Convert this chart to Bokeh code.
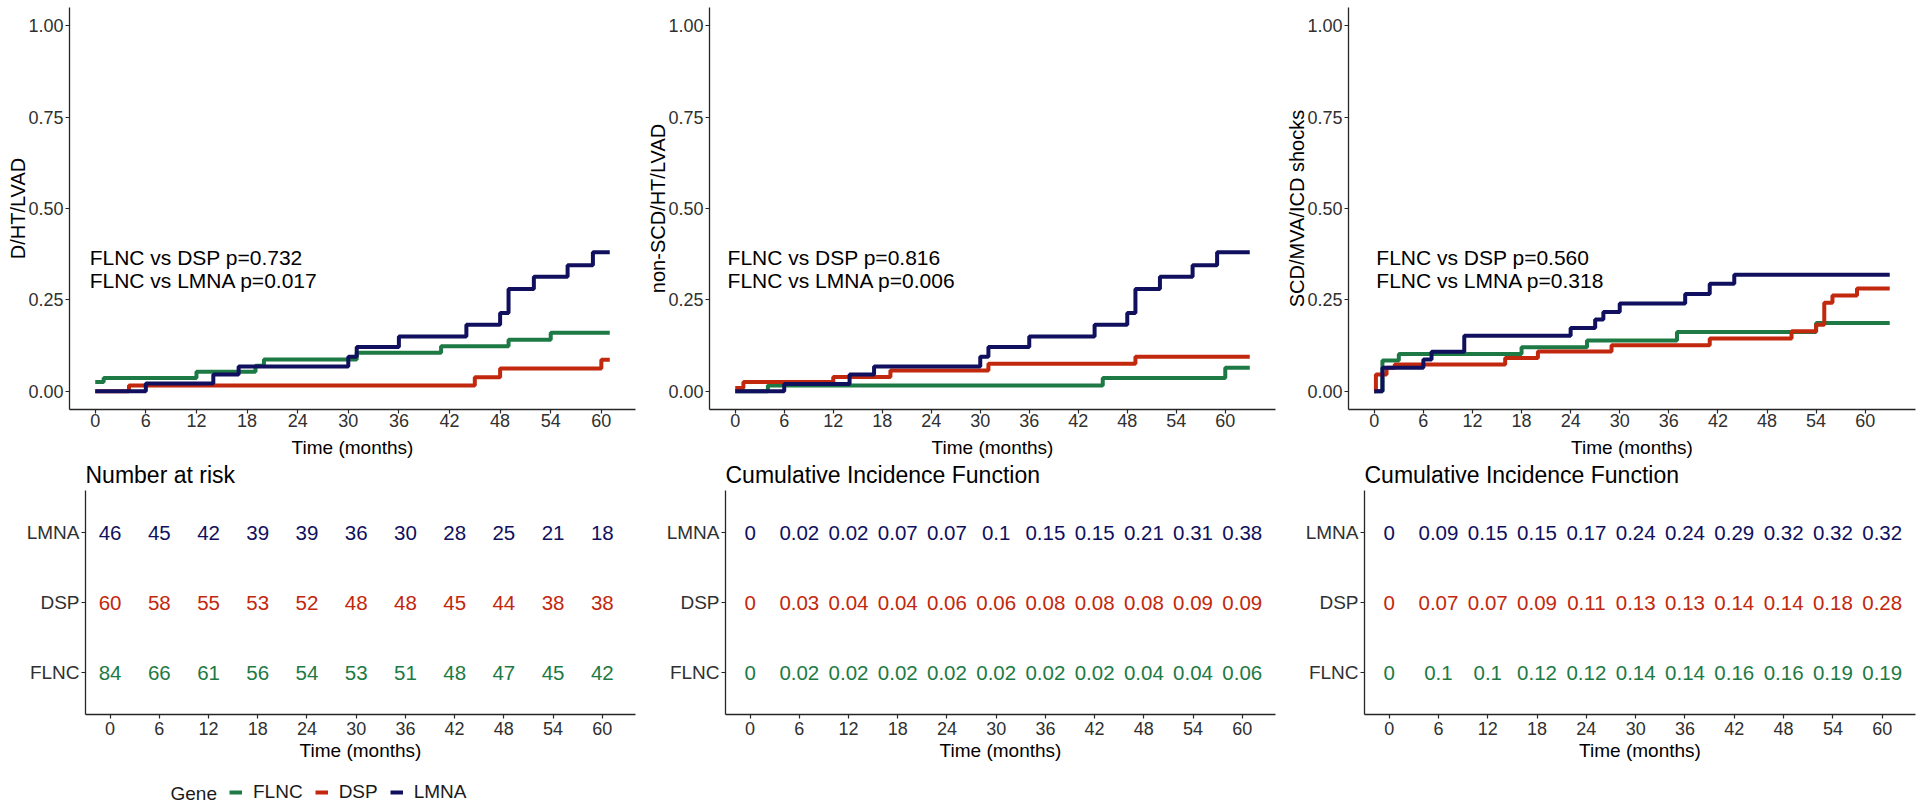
from bokeh.plotting import figure
from bokeh.models import Range1d, FixedTicker, PrintfTickFormatter, Legend, LegendItem, Label
from bokeh.layouts import column, row
from bokeh.embed import file_html
from bokeh.resources import INLINE
from bokeh.core.properties import value

FONT = "Liberation Sans"

# ---------------- data ----------------
genes = ["FLNC", "DSP", "LMNA"]
gene_colors = ["#1d7a44", "#c2280d", "#10105e"]

time_ticks = [0, 6, 12, 18, 24, 30, 36, 42, 48, 54, 60]

# Panel 1: D/HT/LVAD
p1_flnc_t = [0, 1, 12, 19, 20, 31, 41, 49, 54, 61]
p1_flnc_v = [0.025, 0.036, 0.053, 0.070, 0.087, 0.105, 0.123, 0.141, 0.160, 0.160]
p1_dsp_t = [0, 4, 45, 48, 60, 61]
p1_dsp_v = [0.0, 0.016, 0.038, 0.062, 0.086, 0.086]
p1_lmna_t = [0, 6, 14, 17, 30, 31, 36, 44, 48, 49, 52, 56, 59, 61]
p1_lmna_v = [0.0, 0.021, 0.046, 0.068, 0.094, 0.121, 0.150, 0.182, 0.214, 0.280, 0.313, 0.345, 0.380, 0.380]
p1_text = ["FLNC vs DSP p=0.732", "FLNC vs LMNA p=0.017"]

# Panel 2: non-SCD/HT/LVAD
p2_flnc_t = [0, 4, 45, 60, 63]
p2_flnc_v = [0.0, 0.016, 0.036, 0.064, 0.064]
p2_dsp_t = [0, 1, 12, 19, 31, 49, 63]
p2_dsp_v = [0.009, 0.025, 0.039, 0.057, 0.075, 0.094, 0.094]
p2_lmna_t = [0, 6, 14, 17, 30, 31, 36, 44, 48, 49, 52, 56, 59, 63]
p2_lmna_v = [0.0, 0.020, 0.046, 0.068, 0.094, 0.121, 0.150, 0.182, 0.214, 0.280, 0.313, 0.345, 0.380, 0.380]
p2_text = ["FLNC vs DSP p=0.816", "FLNC vs LMNA p=0.006"]

# Panel 3: SCD/MVA/ICD shocks
p3_flnc_t = [0, 1, 3, 18, 26, 37, 54, 63]
p3_flnc_v = [0.0, 0.084, 0.102, 0.120, 0.139, 0.162, 0.187, 0.187]
p3_dsp_t = [0, 0.2, 1.5, 2.5, 16, 20, 29, 41, 51, 54, 55, 56, 59, 63]
p3_dsp_v = [0.0, 0.046, 0.064, 0.073, 0.091, 0.109, 0.126, 0.144, 0.164, 0.182, 0.242, 0.262, 0.281, 0.281]
p3_lmna_t = [0, 1, 6, 7, 11, 24, 27, 28, 30, 38, 41, 44, 63]
p3_lmna_v = [0.0, 0.064, 0.087, 0.108, 0.152, 0.173, 0.196, 0.217, 0.240, 0.266, 0.294, 0.319, 0.319]
p3_text = ["FLNC vs DSP p=0.560", "FLNC vs LMNA p=0.318"]

# Number at risk
risk_flnc = [84, 66, 61, 56, 54, 53, 51, 48, 47, 45, 42]
risk_dsp = [60, 58, 55, 53, 52, 48, 48, 45, 44, 38, 38]
risk_lmna = [46, 45, 42, 39, 39, 36, 30, 28, 25, 21, 18]

# Cumulative incidence, panel 2
cif2_flnc = [0, 0.02, 0.02, 0.02, 0.02, 0.02, 0.02, 0.02, 0.04, 0.04, 0.06]
cif2_dsp = [0, 0.03, 0.04, 0.04, 0.06, 0.06, 0.08, 0.08, 0.08, 0.09, 0.09]
cif2_lmna = [0, 0.02, 0.02, 0.07, 0.07, 0.1, 0.15, 0.15, 0.21, 0.31, 0.38]

# Cumulative incidence, panel 3
cif3_flnc = [0, 0.1, 0.1, 0.12, 0.12, 0.14, 0.14, 0.16, 0.16, 0.19, 0.19]
cif3_dsp = [0, 0.07, 0.07, 0.09, 0.11, 0.13, 0.13, 0.14, 0.14, 0.18, 0.28]
cif3_lmna = [0, 0.09, 0.15, 0.15, 0.17, 0.24, 0.24, 0.29, 0.32, 0.32, 0.32]

# ---------------- styling / layout constants ----------------
AXIS_COLOR = "#262626"
TICK_LABEL_COLOR = "#303030"
TOP_H, TOP_B, TOP_T = 460, 50, 7          # frame spans page y 7..410
TAB_FRAME_BOTTOM = 714
TAB_B = 60
TAB_H = TAB_FRAME_BOTTOM - TOP_H + TAB_B
ROW_PX = 70.0                               # pixels per table row unit
LEG_H = 806 - TOP_H - TAB_H


def style_axes(p):
    p.grid.visible = False
    p.outline_line_color = None
    p.background_fill_color = "white"
    p.border_fill_color = "white"
    for ax in (p.xaxis[0], p.yaxis[0]):
        ax.axis_line_color = AXIS_COLOR
        ax.axis_line_width = 1.3
        ax.major_tick_line_color = AXIS_COLOR
        ax.major_tick_line_width = 1.2
        ax.major_tick_out = 4
        ax.major_tick_in = 0
        ax.minor_tick_line_color = None
        ax.major_label_text_font = FONT
        ax.major_label_text_font_size = "18px"
        ax.major_label_text_color = TICK_LABEL_COLOR
        ax.axis_label_text_font = FONT
        ax.axis_label_text_font_style = "normal"
        ax.axis_label_text_color = "black"
    p.xaxis[0].ticker = FixedTicker(ticks=time_ticks)
    p.xaxis[0].axis_label = "Time (months)"
    p.xaxis[0].axis_label_text_font_size = "19px"
    p.yaxis[0].major_label_standoff = 2


def top_fig(x_start, x_end, ylabel, series, texts, text_x, bl):
    p = figure(width=640, height=TOP_H, x_range=Range1d(x_start, x_end), y_range=Range1d(-0.05, 1.05),
               toolbar_location=None, output_backend="svg",
               min_border_left=bl, min_border_right=5, min_border_top=TOP_T, min_border_bottom=TOP_B)
    style_axes(p)
    p.xaxis[0].major_label_standoff = 0
    p.xaxis[0].axis_label_standoff = 7
    p.yaxis[0].ticker = FixedTicker(ticks=[0, 0.25, 0.5, 0.75, 1.0])
    p.yaxis[0].formatter = PrintfTickFormatter(format="%.2f")
    p.yaxis[0].axis_label = ylabel
    p.yaxis[0].axis_label_text_font_size = "20px"
    p.yaxis[0].axis_label_standoff = -4
    for (t, v), c in zip(series, gene_colors):
        p.step(t, v, mode="after", line_color=c, line_width=4)
    for txt, yy in zip(texts, [0.367, 0.302]):
        p.add_layout(Label(x=text_x, y=yy, text=txt, text_font=FONT, text_font_size="21px",
                           text_baseline="middle", text_align="left", text_color="black"))
    return p


def fmt_num(v):
    return f"{v:g}"


def table_fig(bl, title, rows):
    frame_h = TAB_H - TAB_B
    y_top = 0.4 + frame_h / ROW_PX
    p = figure(width=640, height=TAB_H, x_range=Range1d(-3.0, 64.05), y_range=Range1d(0.4, y_top),
               toolbar_location=None, output_backend="svg",
               min_border_left=bl, min_border_right=5, min_border_top=0, min_border_bottom=TAB_B)
    style_axes(p)
    p.xaxis[0].major_label_standoff = 3
    p.xaxis[0].axis_label_standoff = 2
    p.yaxis[0].bounds = (0.4, 3.6)
    p.yaxis[0].ticker = FixedTicker(ticks=[1, 2, 3])
    p.yaxis[0].major_label_overrides = {i + 1: g for i, g in enumerate(genes)}
    p.yaxis[0].major_label_text_font_size = "19px"
    # panel title, placed just above the table's axis
    p.add_layout(Label(x=-3.0, y=3.6 + 16 / ROW_PX, text=title, text_font=FONT,
                       text_font_size="23px", text_color="black",
                       text_align="left", text_baseline="middle"))
    for i, (vals, c) in enumerate(zip(rows, gene_colors)):
        p.text(x=time_ticks, y=[i + 1] * len(time_ticks), text=[fmt_num(v) for v in vals],
               text_font=value(FONT), text_font_size="20.5px", text_color=c,
               text_align="center", text_baseline="middle")
    return p


f1 = top_fig(-3.05, 64.05, "D/HT/LVAD",
             [(p1_flnc_t, p1_flnc_v), (p1_dsp_t, p1_dsp_v), (p1_lmna_t, p1_lmna_v)],
             p1_text, -0.66, 69)
f2 = top_fig(-3.15, 66.15, "non-SCD/HT/LVAD",
             [(p2_flnc_t, p2_flnc_v), (p2_dsp_t, p2_dsp_v), (p2_lmna_t, p2_lmna_v)],
             p2_text, -0.94, 69)
f3 = top_fig(-3.15, 66.15, "SCD/MVA/ICD shocks",
             [(p3_flnc_t, p3_flnc_v), (p3_dsp_t, p3_dsp_v), (p3_lmna_t, p3_lmna_v)],
             p3_text, 0.25, 68)

t1 = table_fig(85, "Number at risk", [risk_flnc, risk_dsp, risk_lmna])
t2 = table_fig(85, "Cumulative Incidence Function", [cif2_flnc, cif2_dsp, cif2_lmna])
t3 = table_fig(84, "Cumulative Incidence Function", [cif3_flnc, cif3_dsp, cif3_lmna])

# legend strip
lg = figure(width=640, height=LEG_H, x_range=Range1d(0, 640), y_range=Range1d(0, LEG_H),
            toolbar_location=None, output_backend="svg", x_axis_type=None, y_axis_type=None,
            min_border_left=0, min_border_right=0, min_border_top=0, min_border_bottom=0)
lg.grid.visible = False
lg.outline_line_color = None
lg.add_layout(Label(x=170, y=LEG_H - 19, text="Gene", text_font=FONT, text_font_size="19px",
                    text_color="#1a1a1a", text_align="left", text_baseline="middle"))
items = []
for g, c in zip(genes, gene_colors):
    r = lg.line(x=[float("nan")], y=[float("nan")], line_color=c, line_width=4)
    items.append(LegendItem(label=g, renderers=[r]))
legend = Legend(items=items, orientation="horizontal", location=(229, LEG_H - 29),
                label_text_font=FONT, label_text_font_size="19px", label_text_color="#1a1a1a",
                glyph_width=13, glyph_height=20, label_height=20, label_standoff=11, spacing=12,
                padding=0, margin=0, border_line_color=None, background_fill_alpha=0)
lg.add_layout(legend)

layout = column(row(f1, f2, f3), row(t1, t2, t3), lg)

open("out.html", "w").write(file_html(layout, INLINE))
